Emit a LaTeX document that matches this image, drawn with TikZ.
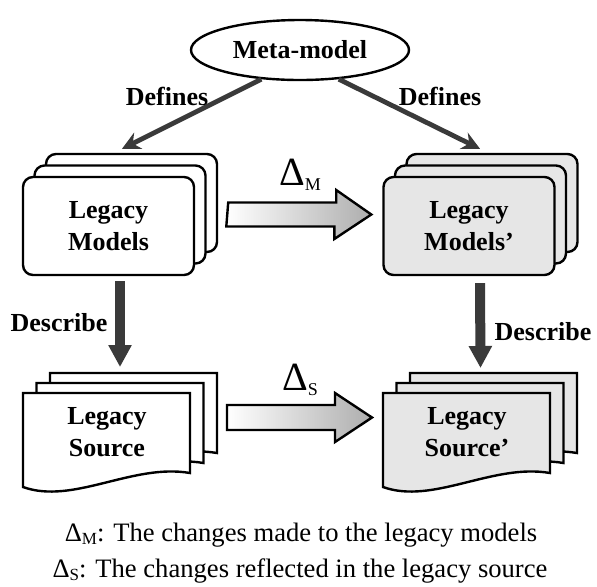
\documentclass[tikz,border=0pt]{standalone}
\usepackage{fontspec}
\setmainfont{Liberation Serif}
\usetikzlibrary{arrows.meta,shapes.geometric,shadows}

\definecolor{arrowgray}{HTML}{3A3A3A}
\definecolor{newgray}{HTML}{E6E6E6}

% delta with a lowered index: sizes of delta and index, drop, index
\newcommand{\chg}[4]{{\fontsize{#1}{#1}\selectfont Δ}\raisebox{-#3}{\fontsize{#2}{#2}\selectfont #4}}

\tikzset{pics/srcdoc/.style={code={
  \foreach \k in {2,1,0}
    \draw[line width=1.2pt, fill=#1, shift={(13.5*\k,-10*\k)}]
      (0,0) -- (0,94) .. controls (50,112) and (110,70) .. (167,80) -- (167,0) -- cycle;
  \coordinate (-top) at (83.5,0);
  \coordinate (-e) at (167,40);
  \coordinate (-w) at (0,40);
}}}

\begin{document}
\begin{tikzpicture}[x=0.5pt, y=-0.5pt,
  every node/.style = {align=center, font=\fontsize{13}{16}\selectfont\bfseries},
  model/.style = {shape=rectangle, rounded corners=5pt, draw, line width=1.2pt,
    minimum width=85.5pt, minimum height=49pt,
    copy shadow={shadow xshift=11.5pt, shadow yshift=11.5pt},
    copy shadow={shadow xshift=5.75pt, shadow yshift=5.75pt}},
  defarrow/.style = {draw=arrowgray, line width=2.4pt,
    -{Stealth[length=9pt, width=9pt, inset=3pt]}},
  descarrow/.style = {draw=arrowgray, line width=5pt,
    -{Triangle[length=11pt, width=11pt]}},
  chgarrow/.style = {left color=white, right color=black!32,
    draw=black, line width=1.2pt},
  capt/.style = {font=\fontsize{13.3}{16}\selectfont}]
  \useasboundingbox (0,0) rectangle (597,586);

  \node[shape=ellipse, draw, line width=1.2pt, inner sep=0pt,
    minimum width=109pt, minimum height=30pt] (meta) at (300,50) {Meta-model};

  % model stacks
  \node[model, fill=white] (mdlL) at (108.5,226) {Legacy\\Models};
  \node[model, fill=newgray] (mdlR) at (469,226) {Legacy\\Models'};

  % source stacks
  \pic (dL) at (23,393) {srcdoc=white};
  \pic (dR) at (383,393) {srcdoc=newgray};
  \node (srcL) at (107,432) {Legacy\\Source};
  \node (srcR) at (467,432) {Legacy\\Source'};

  % defines / describe
  \draw[defarrow] (meta.217) -- ([shift={(13.5,-27)}]mdlL.north);
  \draw[defarrow] (meta.323) -- ([shift={(11,-27)}]mdlR.north);
  \node (defL) at (167,96) {Defines};
  \node (defR) at (440,96) {Defines};

  \draw[descarrow] ([shift={(11.5,5)}]mdlL.south) -- ([shift={(13.5,-26)}]dL-top);
  \draw[descarrow] ([shift={(11,7)}]mdlR.south) -- ([shift={(14,-25)}]dR-top);
  \node (dscL) at (59,323) {Describe};
  \node (dscR) at (543,332) {Describe};

  % change arrows
  \path (mdlL.east) ++(33,-11.5) coordinate (dMa);
  \path (mdlR.west) ++(-11,-11.5) coordinate (dMb);
  \shade[chgarrow] (dMa) ++(0,-12) -- ++(108,0) -- ++(0,-12.5) -- (dMb)
    -- ++(-37,24.5) -- ++(0,-12.5) -- ++(-108,0) -- cycle;
  \path (dL-e) ++(37,-15.5) coordinate (dSa);
  \path (dR-w) ++(-11,-15.5) coordinate (dSb);
  \shade[chgarrow] (dSa) ++(0,-12.5) -- ++(108,0) -- ++(0,-12) -- (dSb)
    -- ++(-37,24.5) -- ++(0,-12) -- ++(-108,0) -- cycle;
  \node[font=\mdseries] (dMlbl) at (300,175) {\chg{20}{9}{2.5pt}{M}};
  \node[font=\mdseries] (dSlbl) at (300,380) {\chg{20}{9}{2.5pt}{S}};

  \node[capt] (capM) at (301,535) {\chg{13.3}{8.5}{1.5pt}{M}: The changes made to the legacy models};
  \node[capt] (capS) at (300,571) {\chg{13.3}{8.5}{1.5pt}{S}: The changes reflected in the legacy source};
\end{tikzpicture}
\end{document}
